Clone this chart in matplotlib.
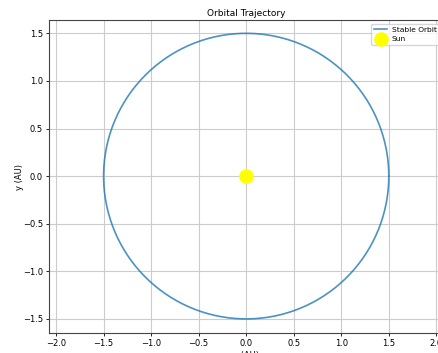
import numpy as np
import matplotlib.pyplot as plt

# orbit data
orbit_radius = 1.5
theta = np.linspace(0, 2 * np.pi, 400)
orbit_x = orbit_radius * np.cos(theta)
orbit_y = orbit_radius * np.sin(theta)
sun_x = [0.0]
sun_y = [0.0]

fig = plt.figure(figsize=(4.38, 3.53), dpi=100)
W, H = 438, 353
# axes extends past right edge (reference is cropped)
ax = fig.add_axes([49 / W, (H - 333) / H, 394 / W, 313 / H])

ax.plot(orbit_x, orbit_y, color='#1f77b4', linewidth=1.2, alpha=0.8, label='Stable Orbit')
ax.scatter(sun_x, sun_y, color='yellow', s=90, label='Sun', zorder=3)

ax.set_xlim(-2.074, 2.07)
ax.set_ylim(-1.648, 1.64)
ax.set_xticks(np.arange(-2.0, 2.01, 0.5))
ax.set_yticks(np.arange(-1.5, 1.51, 0.5))

ax.set_title('Orbital Trajectory', fontsize=6.5, pad=3)
ax.set_xlabel('x (AU)', fontsize=6, labelpad=2)
ax.set_ylabel('y (AU)', fontsize=6, labelpad=-1)
ax.tick_params(labelsize=6, length=2.5, width=0.6, pad=2)
for s in ax.spines.values():
    s.set_linewidth(0.8)
    s.set_color('#444444')
ax.grid(True, color='#cccccc', linewidth=0.8)
ax.legend(loc='upper right', fontsize=5.4, framealpha=0.8, borderpad=0.35,
          handlelength=1.8, labelspacing=0.45, handletextpad=0.6)

plt.savefig('out.png', dpi=100)
